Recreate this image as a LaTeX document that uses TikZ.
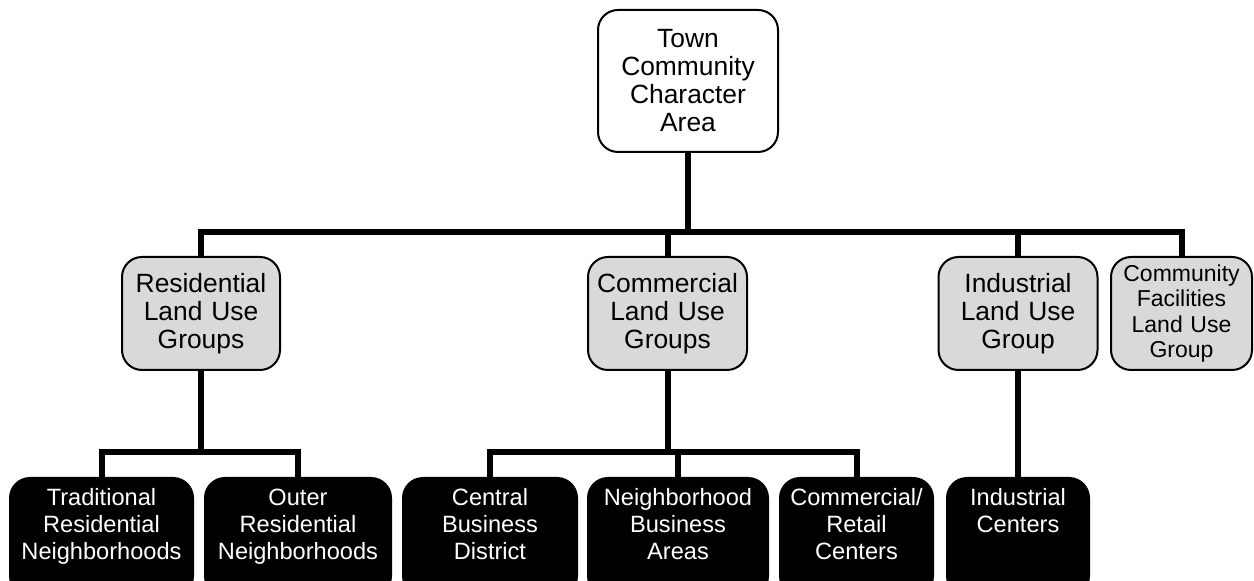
\documentclass[tikz,border=0pt]{standalone}
\usepackage{fontspec}
\setmainfont{Liberation Sans}
\definecolor{boxgray}{RGB}{217,217,217}

\begin{document}
\begin{tikzpicture}[x=0.5pt,y=-0.5pt,
    root/.style={draw,line width=1pt,fill=white,rounded corners=10pt,inner sep=0pt,
      minimum width=90pt,text width=90pt,minimum height=71pt,align=center,
      font=\fontsize{13.2pt}{14pt}\selectfont},
    grp/.style={draw,line width=1pt,fill=boxgray,rounded corners=10pt,inner sep=0pt,
      minimum width=#1,text width=#1,minimum height=56.5pt,align=center,
      font=\fontsize{13.2pt}{14pt}\selectfont},
    leaf/.style={draw,line width=1pt,fill=black,text=white,rounded corners=10pt,inner sep=0pt,
      minimum width=#1,text width=#1,text height=14pt,text depth=45pt,align=center,anchor=north,
      font=\fontsize{11.8pt}{13.4pt}\selectfont},
    link/.style={line width=3pt}]
\useasboundingbox (0,0) rectangle (1254,581);
\clip (0,0) rectangle (1254,581);

\node[root] (town) at (688,81) {Town\\Community\\Character\\Area};

\node[grp=79pt] (res) at (201,313.5) {Residential\\Land Use\\Groups};
\node[grp=79.5pt] (com) at (667.5,313.5) {Commercial\\Land Use\\Groups};
\node[grp=79.5pt] (ind) at (1018,313.5) {Industrial\\Land Use\\Group};
\node[grp=70.5pt,font=\fontsize{11.5pt}{12.8pt}\selectfont] (cf) at (1181.5,313.5) {Community\\Facilities\\Land Use\\Group};

\node[leaf=91.5pt] (trad) at (101.5,477) {Traditional\\Residential\\Neighborhoods};
\node[leaf=93pt] (outer) at (298,477) {Outer\\Residential\\Neighborhoods};
\node[leaf=87pt] (cbd) at (490,477) {Central\\Business\\District};
\node[leaf=90pt] (nba) at (678,477) {Neighborhood\\Business\\Areas};
\node[leaf=76.5pt] (crc) at (856.5,477) {Commercial/\\Retail\\Centers};
\node[leaf=71pt] (indc) at (1018,477) {Industrial\\Centers};

\coordinate (bar) at (688,232);
\coordinate (rbar) at (200,452);
\coordinate (cbar) at (668,452);

\draw[link] (town.south) -- (bar);
\draw[link] (res.north) |- (bar) -| (cf.north);
\draw[link] (com.north) -- (com.north |- bar);
\draw[link] (ind.north) -- (ind.north |- bar);
\draw[link] (res.south) -- (res.south |- rbar);
\draw[link] (trad.north) |- (rbar) -| (outer.north);
\draw[link] (com.south) -- (com.south |- cbar);
\draw[link] (cbd.north) |- (cbar) -| (crc.north);
\draw[link] (nba.north) -- (nba.north |- cbar);
\draw[link] (ind.south) -- (indc.north);
\end{tikzpicture}
\end{document}
